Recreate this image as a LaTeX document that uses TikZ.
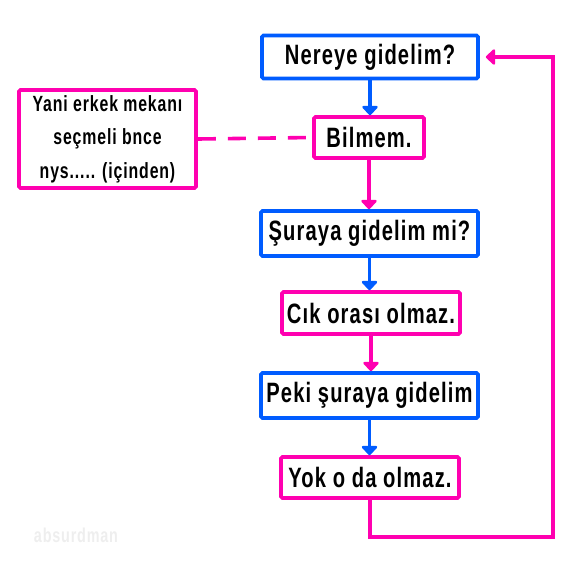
\documentclass[tikz,border=0pt]{standalone}
\usepackage{fontspec}
\setmainfont{Liberation Sans}[FakeStretch=0.72,LetterSpace=4]
\usetikzlibrary{arrows.meta}
\definecolor{chartblue}{RGB}{0,92,255}
\definecolor{chartpink}{RGB}{255,0,176}
\tikzset{
  qbox/.style={draw=chartblue,line width=3.6pt,rounded corners=1.5pt,fill=white,
    font=\bfseries\fontsize{28}{33}\selectfont,inner sep=0pt},
  abox/.style={qbox,draw=chartpink},
  bluearrow/.style={chartblue,line width=3.6pt,-{Triangle[round,length=10pt,width=18pt]}},
  pinkarrow/.style={bluearrow,chartpink}
}
\begin{document}
\begin{tikzpicture}[x=1pt,y=1pt]
        % fix the page size
        \useasboundingbox (0,0) rectangle (576,-568);

        % draw the boxes of the chart
        \node[qbox,minimum width=216,minimum height=43] (nereye) at (370,-57) {Nereye gidelim?};
        \node[abox,minimum width=110,minimum height=41] (bilmem) at (369,-137.5) {Bilmem.};
        \node[abox,minimum width=177,minimum height=98,align=center,
              font=\bfseries\fontsize{22}{33.5}\selectfont] (yani) at (107.5,-139)
              {Yani erkek mekanı\\seçmeli bnce\\nys..... (içinden)};
        \node[qbox,minimum width=217,minimum height=45] (suraya) at (369.5,-233.5) {Şuraya gidelim mi?};
        \node[abox,minimum width=178,minimum height=42] (cik) at (371,-313) {Cık orası olmaz.};
        \node[qbox,minimum width=217,minimum height=45] (peki) at (369.5,-395.5) {Peki şuraya gidelim};
        \node[abox,minimum width=178,minimum height=41] (yok) at (370,-477.5) {Yok o da olmaz.};

        % draw the arrows down the chart
        \foreach \a/\b/\s in {nereye/bilmem/bluearrow, bilmem/suraya/pinkarrow,
                              suraya/cik/bluearrow, cik/peki/pinkarrow, peki/yok/bluearrow}
                \draw[\s] (\a.south) -- (\a.south |- \b.north);

        % the thought on the side
        \draw[chartpink,line width=3.6pt,dash pattern=on 18pt off 12pt] (yani.east) -- (bilmem.west);

        % back to the start
        \coordinate (loopbottom) at (370,-537);
        \coordinate (loopright) at (553,-537);
        \draw[pinkarrow,shorten >=6pt] (yok.south) -- (loopbottom) -- (loopright) |- (nereye.east);

        % watermark
        \node[text=gray!13,font=\bfseries\fontsize{20}{24}\selectfont] (mark) at (76,-535) {absurdman};
\end{tikzpicture}
\end{document}
